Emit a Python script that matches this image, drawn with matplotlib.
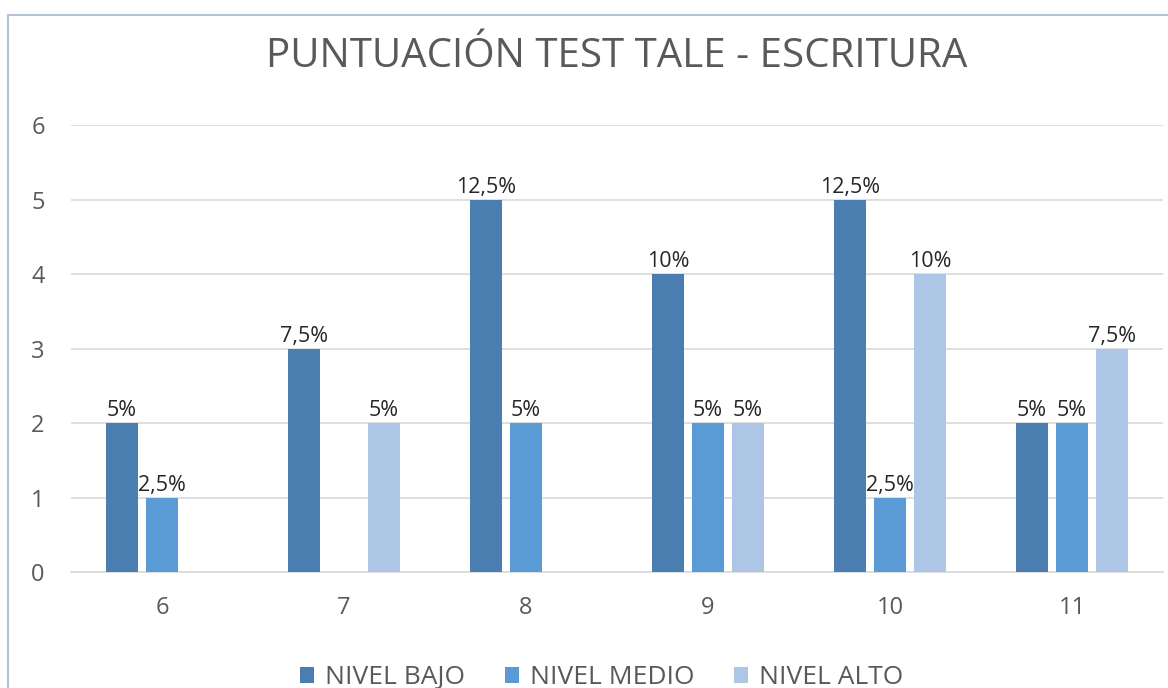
import numpy as np
import matplotlib
matplotlib.use("Agg")
import matplotlib.pyplot as plt
from matplotlib.patches import Rectangle

plt.rcParams['font.family'] = ['Open Sans', 'DejaVu Sans']

# datos
categorias = ["6", "7", "8", "9", "10", "11"]
nivel_bajo = [2, 3, 5, 4, 5, 2]
nivel_medio = [1, 0, 2, 2, 1, 2]
nivel_alto = [0, 2, 0, 2, 4, 3]
etq_bajo = ["5%", "7,5%", "12,5%", "10%", "12,5%", "5%"]
etq_medio = ["2,5%", "", "5%", "5%", "2,5%", "5%"]
etq_alto = ["", "5%", "", "5%", "10%", "7,5%"]

series = [
    ("NIVEL BAJO", nivel_bajo, etq_bajo, "#4a7eb0"),
    ("NIVEL MEDIO", nivel_medio, etq_medio, "#5b9bd5"),
    ("NIVEL ALTO", nivel_alto, etq_alto, "#adc6e5"),
]

fig = plt.figure(figsize=(11.68, 6.88), dpi=100)
ax = fig.add_axes([0.0608, 0.1686, 0.9349, 0.6497])

x = np.arange(len(categorias))
w = 0.176
offs = [-0.22, 0, 0.22]
for (nombre, vals, etqs, col), o in zip(series, offs):
    bars = ax.bar(x + o, vals, width=w, color=col, label=nombre, zorder=3)
    for b, t in zip(bars, etqs):
        if t:
            ax.text(b.get_x() + b.get_width() / 2, b.get_height() + 0.025, t,
                    ha="center", va="bottom", fontsize=15.5, color="#262626", zorder=4)

ax.set_xlim(-0.5, len(categorias) - 0.5)
ax.set_ylim(0, 6)
ax.set_yticks(range(0, 7))
ax.set_xticks(x)
ax.set_xticklabels(categorias)
ax.yaxis.grid(True, color="#d9d9d9", linewidth=1.2, zorder=0)
ax.tick_params(axis="both", length=0, labelsize=17, labelcolor="#595959")
ax.tick_params(axis="y", pad=19)
ax.tick_params(axis="x", pad=17)
for s in ["top", "right", "left"]:
    ax.spines[s].set_visible(False)
ax.spines["bottom"].set_color("#d9d9d9")
ax.spines["bottom"].set_linewidth(1.2)

fig.text(0.528, 0.917, "PUNTUACIÓN TEST TALE - ESCRITURA", ha="center", va="center",
         fontsize=29, color="#595959")

leg = fig.legend(loc="center", bbox_to_anchor=(0.515, 0.015), ncol=3, frameon=False,
                 fontsize=19, handlelength=0.55, handleheight=0.55, columnspacing=1.5,
                 handletextpad=0.4, borderpad=0)
for t in leg.get_texts():
    t.set_color("#595959")

# borde del grafico
fig.patches.append(Rectangle((8 / 1168, -0.1), 1.2, (688 - 15) / 688 + 0.1,
                             transform=fig.transFigure, fill=False,
                             edgecolor="#b4c2d9", linewidth=1.5))

fig.savefig("out.png", dpi=100)
